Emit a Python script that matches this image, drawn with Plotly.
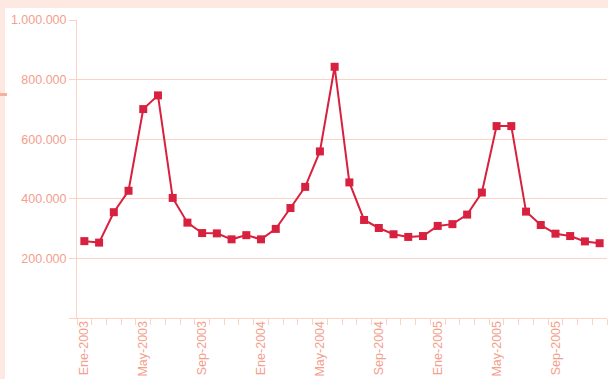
import plotly.graph_objects as go

# Monthly totals, Ene-2003 .. Dic-2005
months = ["Ene", "Feb", "Mar", "Abr", "May", "Jun",
          "Jul", "Ago", "Sep", "Oct", "Nov", "Dic"]
years = [2003, 2004, 2005]
categories = [f"{m}-{y}" for y in years for m in months]

values = [
    258000, 253000, 355000, 427000, 701000, 747000,
    403000, 320000, 285000, 284000, 264000, 278000,
    264000, 299000, 369000, 440000, 559000, 843000,
    455000, 329000, 302000, 281000, 272000, 275000,
    309000, 315000, 347000, 421000, 644000, 644000,
    357000, 312000, 283000, 275000, 257000, 251000,
]

# Only every fourth month gets a visible label
labelled_months = {"Ene", "May", "Sep"}
x_ticktext = [c if c.split("-")[0] in labelled_months else "" for c in categories]

y_tickvals = [0, 200000, 400000, 600000, 800000, 1000000]
y_ticktext = ["", "200.000", "400.000", "600.000", "800.000", "1.000.000"]

LINE = "#d8203f"
GRID = "#fbd3c4"
LABEL = "#f3a08c"
BAND = "#fde9e1"

fig = go.Figure(
    go.Scatter(
        x=categories,
        y=values,
        mode="lines+markers",
        line=dict(color=LINE, width=2),
        marker=dict(symbol="square", size=8, color=LINE),
        hoverinfo="x+y",
    )
)

W, H = 608, 379
ml, mr, mt, mb = 77, 1, 20, 61
pw, ph = W - ml - mr, H - mt - mb


def px(xp):
    return (xp - ml) / pw


def py(yp):
    return (H - mb - yp) / ph


shapes = [
    # light band along the top edge
    dict(type="rect", xref="paper", yref="paper", x0=px(0), x1=px(W), y0=py(8), y1=py(0),
         fillcolor=BAND, line_width=0, layer="below"),
    # light band along the left edge
    dict(type="rect", xref="paper", yref="paper", x0=px(0), x1=px(5), y0=py(H), y1=py(8),
         fillcolor=BAND, line_width=0, layer="below"),
    # small accent dash on the left edge
    dict(type="rect", xref="paper", yref="paper", x0=px(0), x1=px(7), y0=py(96), y1=py(93),
         fillcolor="#f4b19e", line_width=0, layer="below"),
]

fig.update_layout(
    width=W,
    height=H,
    margin=dict(l=ml, r=mr, t=mt, b=mb),
    paper_bgcolor="white",
    plot_bgcolor="white",
    showlegend=False,
    shapes=shapes,
    font=dict(family="Liberation Sans, Arial, sans-serif", size=12.5, color=LABEL),
    xaxis=dict(
        type="category",
        range=[-0.5, len(categories) - 0.5],
        tickmode="array",
        tickvals=categories,
        ticktext=x_ticktext,
        tickson="boundaries",
        ticks="outside",
        ticklen=6,
        tickcolor=GRID,
        tickangle=-90,
        ticklabelstandoff=-3,
        showgrid=False,
        showline=True,
        linecolor=GRID,
        linewidth=1,
        zeroline=False,
        automargin=False,
        tickfont=dict(size=12.5, color=LABEL),
    ),
    yaxis=dict(
        range=[0, 1000000],
        tickmode="array",
        tickvals=y_tickvals,
        ticktext=y_ticktext,
        ticks="outside",
        ticklen=7,
        tickcolor=GRID,
        showgrid=True,
        gridcolor=GRID,
        gridwidth=1,
        showline=True,
        linecolor=GRID,
        linewidth=1,
        zeroline=False,
        automargin=False,
        tickfont=dict(size=12.5, color=LABEL),
    ),
)

fig.write_html("out.html")
